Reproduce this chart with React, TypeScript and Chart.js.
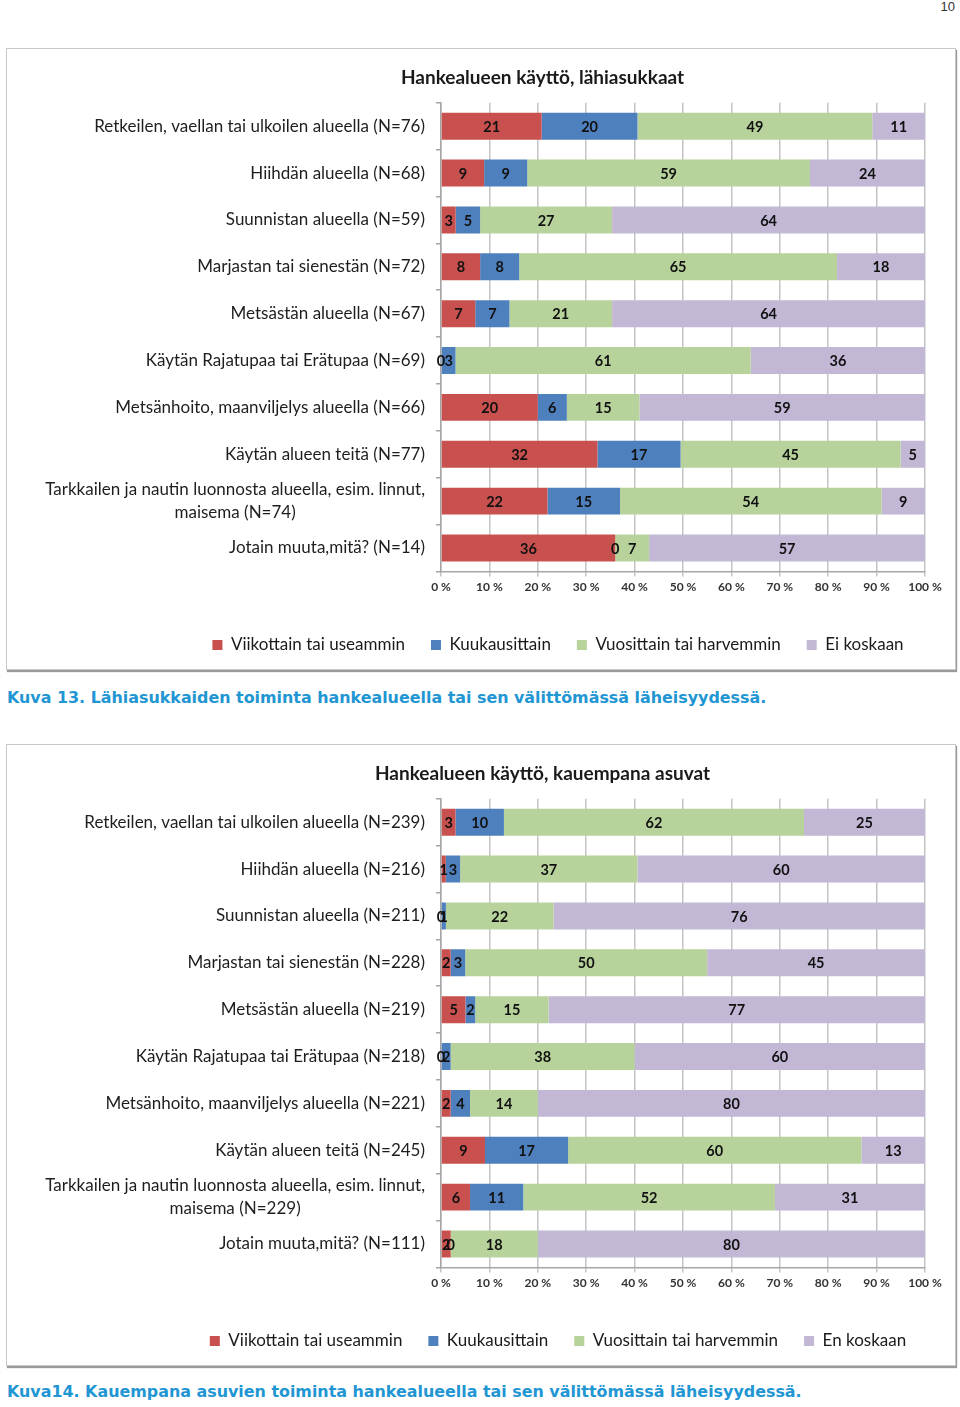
import React, { useEffect, useRef } from 'react';
import { Chart, registerables } from 'chart.js';

Chart.register(...registerables);

const pageNumber = '10';

const titleNear = 'Hankealueen käyttö, lähiasukkaat';
const titleFar = 'Hankealueen käyttö, kauempana asuvat';

const captionNear = 'Kuva 13. Lähiasukkaiden toiminta hankealueella tai sen välittömässä läheisyydessä.';
const captionFar = 'Kuva14. Kauempana asuvien toiminta hankealueella tai sen välittömässä läheisyydessä.';

const categoriesNear: (string | string[])[] = [
  'Retkeilen, vaellan tai ulkoilen alueella (N=76)',
  'Hiihdän alueella (N=68)',
  'Suunnistan alueella (N=59)',
  'Marjastan tai sienestän (N=72)',
  'Metsästän alueella (N=67)',
  'Käytän Rajatupaa tai Erätupaa (N=69)',
  'Metsänhoito, maanviljelys alueella (N=66)',
  'Käytän alueen teitä (N=77)',
  ['Tarkkailen ja nautin luonnosta alueella, esim. linnut,', 'maisema (N=74)'],
  'Jotain muuta,mitä? (N=14)',
];
const weeklyNear = [21, 9, 3, 8, 7, 0, 20, 32, 22, 36];
const monthlyNear = [20, 9, 5, 8, 7, 3, 6, 17, 15, 0];
const yearlyNear = [49, 59, 27, 65, 21, 61, 15, 45, 54, 7];
const neverNear = [11, 24, 64, 18, 64, 36, 59, 5, 9, 57];

const categoriesFar: (string | string[])[] = [
  'Retkeilen, vaellan tai ulkoilen alueella (N=239)',
  'Hiihdän alueella (N=216)',
  'Suunnistan alueella (N=211)',
  'Marjastan tai sienestän (N=228)',
  'Metsästän alueella (N=219)',
  'Käytän Rajatupaa tai Erätupaa (N=218)',
  'Metsänhoito, maanviljelys alueella (N=221)',
  'Käytän alueen teitä (N=245)',
  ['Tarkkailen ja nautin luonnosta alueella, esim. linnut,', 'maisema (N=229)'],
  'Jotain muuta,mitä? (N=111)',
];
const weeklyFar = [3, 1, 0, 2, 5, 0, 2, 9, 6, 2];
const monthlyFar = [10, 3, 1, 3, 2, 2, 4, 17, 11, 0];
const yearlyFar = [62, 37, 22, 50, 15, 38, 14, 60, 52, 18];
const neverFar = [25, 60, 76, 45, 77, 60, 80, 13, 31, 80];

const seriesNamesNear = ['Viikottain tai useammin', 'Kuukausittain', 'Vuosittain tai harvemmin', 'Ei koskaan'];
const seriesNamesFar = ['Viikottain tai useammin', 'Kuukausittain', 'Vuosittain tai harvemmin', 'En koskaan'];

const xTickLabels = ['0 %', '10 %', '20 %', '30 %', '40 %', '50 %', '60 %', '70 %', '80 %', '90 %', '100 %'];

const seriesColors = ['#c8504e', '#4f80be', '#b7d39b', '#c2b7d5'];

const FONT = 'Lato, "Open Sans", sans-serif';

type PanelProps = {
  title: string;
  categories: (string | string[])[];
  series: number[][];
  names: string[];
  top: number;
};

function ChartPanel({ title, categories, series, names, top }: PanelProps) {
  const ref = useRef<HTMLCanvasElement | null>(null);

  useEffect(() => {
    if (!ref.current) return;
    const totals = categories.map((_, i) => series.reduce((s, arr) => s + arr[i], 0));

    const valueLabels = {
      id: 'valueLabels',
      afterDatasetsDraw(chart: any) {
        const ctx = chart.ctx;
        ctx.save();
        ctx.font = `bold 14.5px ${FONT}`;
        ctx.fillStyle = '#111111';
        ctx.textAlign = 'center';
        ctx.textBaseline = 'middle';
        chart.data.datasets.forEach((_ds: any, di: number) => {
          const meta = chart.getDatasetMeta(di);
          meta.data.forEach((el: any, i: number) => {
            const p = el.getProps(['x', 'base', 'y'], true);
            ctx.fillText(String(series[di][i]), (p.x + p.base) / 2, p.y + 1);
          });
        });
        ctx.restore();
      },
    };

    const categoryLabels = {
      id: 'categoryLabels',
      afterDraw(chart: any) {
        const ctx = chart.ctx;
        const yScale = chart.scales.y;
        const right = chart.chartArea.left - 16;
        ctx.save();
        ctx.font = `17px ${FONT}`;
        ctx.fillStyle = '#1e1e1e';
        ctx.textBaseline = 'middle';
        categories.forEach((cat, i) => {
          const y = yScale.getPixelForValue(i);
          if (Array.isArray(cat)) {
            const maxW = Math.max(...cat.map((l) => ctx.measureText(l).width));
            const cx = right - maxW / 2;
            ctx.textAlign = 'center';
            cat.forEach((line, li) => {
              ctx.fillText(line, cx, y + (li - (cat.length - 1) / 2) * 23);
            });
          } else {
            ctx.textAlign = 'right';
            ctx.fillText(cat, right, y);
          }
        });
        ctx.restore();
      },
    };

    const legendShift = {
      id: 'legendShift',
      afterLayout(chart: any) {
        const lg = chart.legend;
        if (lg) {
          lg.left += 15.5;
          lg.right += 15.5;
        }
      },
    };

    const chart = new Chart(ref.current, {
      type: 'bar',
      data: {
        labels: categories as any,
        datasets: series.map((arr, di) => ({
          label: names[di],
          data: arr.map((v, i) => (v / totals[i]) * 100),
          backgroundColor: seriesColors[di],
          borderWidth: 0,
          barPercentage: 0.575,
          categoryPercentage: 1,
        })),
      },
      options: {
        indexAxis: 'y',
        responsive: false,
        animation: false,
        events: [],
        layout: { padding: { left: 153, right: 30, top: 17, bottom: 5.5 } },
        plugins: {
          title: {
            display: true,
            text: title,
            font: { family: FONT, size: 19, weight: 'bold' },
            color: '#1a1a1a',
            padding: { top: 0, bottom: 14 },
          },
          legend: {
            position: 'bottom',
            labels: {
              boxWidth: 10,
              boxHeight: 10,
              padding: 26,
              font: { family: FONT, size: 17 },
              color: '#1a1a1a',
            },
          },
          tooltip: { enabled: false },
        },
        scales: {
          x: {
            stacked: true,
            min: 0,
            max: 100,
            ticks: {
              stepSize: 10,
              autoSkip: false,
              maxRotation: 0,
              padding: 4,
              color: '#333333',
              font: { family: FONT, size: 12, weight: 'bold' },
              callback: (_v: any, i: number) => xTickLabels[i],
            },
            grid: { color: '#c4c4c4', lineWidth: 1.5, tickLength: 5, drawTicks: true },
            border: { display: true, color: '#a6a6a6', width: 1.5 },
            afterFit: (s: any) => {
              s.height = 39.1;
            },
          },
          y: {
            stacked: true,
            ticks: { display: false },
            grid: { drawOnChartArea: false, drawTicks: true, tickLength: 5, color: '#a6a6a6', lineWidth: 1.5, offset: true },
            border: { display: true, color: '#a6a6a6', width: 1.5 },
            afterFit: (s: any) => {
              s.width = 281;
            },
          },
        },
      } as any,
      plugins: [valueLabels, categoryLabels, legendShift],
    });

    return () => chart.destroy();
  }, [title, categories, series, names]);

  return (
    <div
      style={{
        position: 'absolute',
        left: 6,
        top,
        width: 948,
        height: 620,
        border: '1px solid #c8c8c8',
        boxShadow: '1px 2px 1px #9a9a9a',
        background: '#ffffff',
      }}
    >
      <canvas ref={ref} width={948} height={620} style={{ display: 'block', width: 948, height: 620 }} />
    </div>
  );
}

const captionStyle: React.CSSProperties = {
  position: 'absolute',
  left: 7,
  fontFamily: '"DejaVu Sans", Verdana, sans-serif',
  fontWeight: 'bold',
  fontSize: 15.9,
  lineHeight: '20px',
  color: '#2196d3',
  whiteSpace: 'nowrap',
};

const seriesNear = [weeklyNear, monthlyNear, yearlyNear, neverNear];
const seriesFar = [weeklyFar, monthlyFar, yearlyFar, neverFar];

export default function App() {
  return (
    <div style={{ position: 'absolute', left: 0, top: 0, width: 960, height: 1407 }}>
      <div
        style={{
          position: 'absolute',
          right: 5,
          top: 0,
          fontFamily: '"Liberation Sans Narrow", "Liberation Sans", sans-serif',
          fontSize: 13,
          lineHeight: '14px',
          color: '#333',
        }}
      >
        {pageNumber}
      </div>
      <ChartPanel title={titleNear} categories={categoriesNear} series={seriesNear} names={seriesNamesNear} top={48} />
      <div style={{ ...captionStyle, top: 688 }}>{captionNear}</div>
      <ChartPanel title={titleFar} categories={categoriesFar} series={seriesFar} names={seriesNamesFar} top={744} />
      <div style={{ ...captionStyle, top: 1382 }}>{captionFar}</div>
    </div>
  );
}
